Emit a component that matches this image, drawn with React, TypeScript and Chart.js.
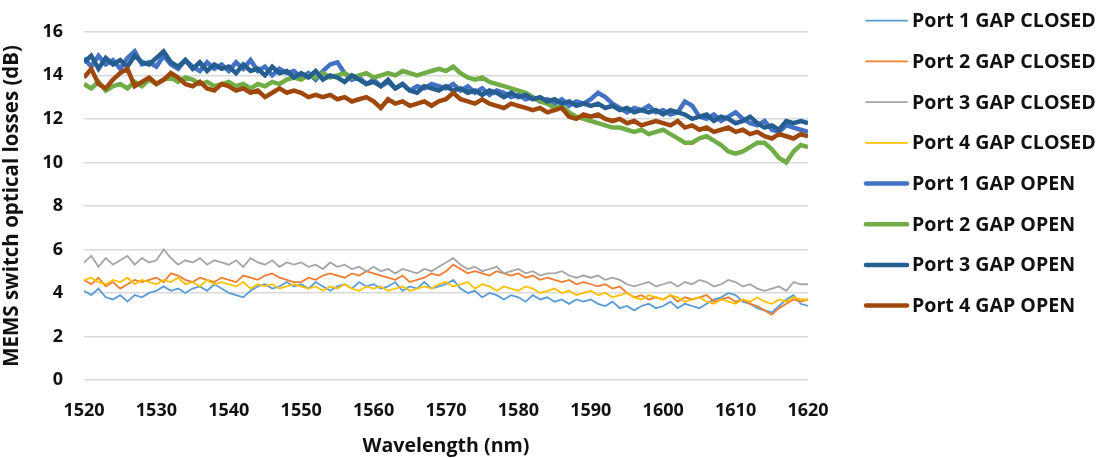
import { useEffect, useRef } from "react";
import { Chart, registerables } from "chart.js";

Chart.register(...registerables);

// Wavelength grid: 1520 nm to 1620 nm, one sample per nm
const startNm = 1520;
const stepNm = 1;

const seriesLabels = [
  "Port 1 GAP CLOSED",
  "Port 2 GAP CLOSED",
  "Port 3 GAP CLOSED",
  "Port 4 GAP CLOSED",
  "Port 1 GAP OPEN",
  "Port 2 GAP OPEN",
  "Port 3 GAP OPEN",
  "Port 4 GAP OPEN",
];

const seriesColors = [
  "#5B9BD5",
  "#ED7D31",
  "#A5A5A5",
  "#FFC000",
  "#4472C4",
  "#70AD47",
  "#255E91",
  "#9E480E",
];

const xTicks = [1520, 1530, 1540, 1550, 1560, 1570, 1580, 1590, 1600, 1610, 1620];
const yTicks = [0, 2, 4, 6, 8, 10, 12, 14, 16];

const port1Closed = [
  4.1, 3.9, 4.2, 3.8, 3.7, 3.9, 3.6, 3.9, 3.8, 4.0,
  4.1, 4.3, 4.1, 4.2, 4.0, 4.2, 4.3, 4.1, 4.4, 4.2,
  4.0, 3.9, 3.8, 4.1, 4.3, 4.4, 4.2, 4.3, 4.5, 4.3,
  4.4, 4.2, 4.5, 4.3, 4.1, 4.3, 4.4, 4.2, 4.5, 4.3,
  4.4, 4.2, 4.3, 4.5, 4.1, 4.3, 4.2, 4.5, 4.2, 4.3,
  4.4, 4.6, 4.2, 4.0, 4.1, 3.8, 4.0, 3.9, 3.7, 3.9,
  3.8, 3.6, 3.9, 3.7, 3.8, 3.6, 3.7, 3.5, 3.7, 3.6,
  3.7, 3.5, 3.4, 3.6, 3.3, 3.4, 3.2, 3.4, 3.5, 3.3,
  3.4, 3.6, 3.3, 3.5, 3.4, 3.3, 3.5, 3.7, 3.8, 4.0,
  3.9, 3.6, 3.5, 3.3, 3.2, 3.1, 3.4, 3.7, 3.9, 3.5,
  3.4,
];

const port2Closed = [
  4.6, 4.4, 4.7, 4.3, 4.5, 4.2, 4.4, 4.6, 4.5, 4.6,
  4.7, 4.5, 4.9, 4.8, 4.6, 4.5, 4.7, 4.6, 4.5, 4.7,
  4.6, 4.5, 4.8, 4.7, 4.6, 4.8, 4.9, 4.7, 4.6, 4.5,
  4.5, 4.7, 4.6, 4.8, 4.9, 4.8, 4.7, 4.9, 4.8, 5.0,
  4.9, 4.8, 4.7, 4.6, 4.8, 4.5, 4.6, 4.7, 4.9, 4.8,
  5.0, 5.3, 5.1, 4.9, 5.0, 4.9, 4.8, 5.0, 4.9, 4.8,
  4.9, 4.7, 4.8, 4.6, 4.7, 4.6, 4.5, 4.6, 4.4, 4.5,
  4.4, 4.3, 4.4, 4.2, 4.3, 4.0, 3.8, 3.9, 3.7, 3.8,
  3.7, 3.9, 3.6, 3.8, 3.7, 3.8, 3.9, 3.6, 3.7, 3.8,
  3.6, 3.7, 3.5, 3.4, 3.2, 3.0, 3.3, 3.5, 3.7, 3.6,
  3.7,
];

const port3Closed = [
  5.4, 5.7, 5.2, 5.6, 5.3, 5.5, 5.7, 5.3, 5.6, 5.4,
  5.5, 6.0, 5.6, 5.3, 5.5, 5.4, 5.6, 5.3, 5.5, 5.4,
  5.3, 5.5, 5.2, 5.6, 5.4, 5.3, 5.5, 5.2, 5.4, 5.3,
  5.4, 5.2, 5.3, 5.1, 5.4, 5.2, 5.3, 5.1, 5.2, 5.0,
  5.2, 5.0, 5.1, 4.9, 5.1, 5.0, 4.9, 5.1, 5.0, 5.2,
  5.4, 5.6, 5.3, 5.1, 5.2, 5.0, 5.1, 5.2, 4.9, 5.0,
  5.1, 4.9, 5.0, 4.8, 4.9, 4.9, 5.0, 4.8, 4.7, 4.8,
  4.7, 4.8, 4.6, 4.7, 4.6, 4.4, 4.3, 4.4, 4.5, 4.3,
  4.4, 4.5, 4.3, 4.5, 4.4, 4.6, 4.5, 4.3, 4.4, 4.6,
  4.5, 4.3, 4.4, 4.2, 4.1, 4.2, 4.3, 4.1, 4.5, 4.4,
  4.4,
];

const port4Closed = [
  4.6, 4.7, 4.5, 4.4, 4.6, 4.5, 4.7, 4.4, 4.6, 4.5,
  4.4, 4.6, 4.5, 4.7, 4.4, 4.5, 4.3, 4.6, 4.4, 4.5,
  4.4, 4.3, 4.5, 4.2, 4.4, 4.3, 4.4, 4.2, 4.3, 4.4,
  4.3, 4.2, 4.3, 4.1, 4.3, 4.2, 4.4, 4.2, 4.1, 4.3,
  4.2, 4.3, 4.1, 4.2, 4.3, 4.1, 4.2, 4.3, 4.2, 4.4,
  4.5, 4.3, 4.4, 4.5, 4.2, 4.4, 4.3, 4.1, 4.3, 4.2,
  4.1, 4.3, 4.2, 4.0, 4.1, 4.2, 4.0, 4.1, 3.9, 4.0,
  4.1, 3.9, 4.0, 3.8, 3.9, 4.0, 3.8, 3.7, 3.9, 3.8,
  3.7, 3.9, 3.8, 3.6, 3.7, 3.8, 3.6, 3.5, 3.7, 3.6,
  3.5, 3.7, 3.6, 3.8, 3.6, 3.5, 3.7, 3.6, 3.8, 3.7,
  3.7,
];

const port1Open = [
  14.8, 14.4, 14.9, 14.5, 14.7, 14.3, 14.8, 15.1, 14.5, 14.6,
  14.4, 14.9, 14.5, 14.3, 14.7, 14.4, 14.2, 14.6, 14.3, 14.5,
  14.2, 14.6, 14.3, 14.7, 14.2, 14.4, 14.0, 14.3, 14.1, 14.2,
  13.9, 14.1, 13.8, 14.2, 14.5, 14.6, 14.1, 13.8, 13.9, 13.6,
  13.8, 13.5, 13.7, 13.4, 13.6, 13.3, 13.5, 13.4, 13.6, 13.5,
  13.4, 13.6, 13.3, 13.5, 13.2, 13.4, 13.1, 13.3, 13.2, 13.0,
  13.1, 12.9, 13.0, 12.8, 12.9, 12.7, 12.9, 12.6, 12.8, 12.7,
  12.9, 13.2, 13.0, 12.7, 12.5, 12.3, 12.5, 12.4, 12.6, 12.3,
  12.4, 12.2, 12.3, 12.8, 12.6, 12.1, 12.0, 12.2, 11.9, 12.1,
  12.3, 12.0, 11.8, 11.7, 11.9, 11.5, 11.4, 11.7, 11.6, 11.5,
  11.4,
];

const port2Open = [
  13.6, 13.4, 13.7, 13.3, 13.5, 13.6, 13.4, 13.7, 13.5, 13.8,
  13.6, 13.8, 13.9, 13.7, 13.9, 13.8, 13.6, 13.7, 13.5, 13.6,
  13.7, 13.5, 13.6, 13.4, 13.6, 13.5, 13.7, 13.6, 13.8, 13.9,
  13.8, 14.0, 13.9, 14.1, 13.9, 14.0, 14.1, 13.9, 14.0, 14.1,
  13.9, 14.0, 14.1, 14.0, 14.2, 14.1, 14.0, 14.1, 14.2, 14.3,
  14.2, 14.4, 14.1, 13.9, 13.8, 13.9, 13.7, 13.6, 13.5, 13.4,
  13.3, 13.2, 13.0, 12.8, 12.7, 12.5, 12.6, 12.3, 12.1, 12.0,
  11.9, 11.8, 11.7, 11.6, 11.6, 11.5, 11.4, 11.5, 11.3, 11.4,
  11.5, 11.3, 11.1, 10.9, 10.9, 11.1, 11.2, 11.0, 10.8, 10.5,
  10.4, 10.5, 10.7, 10.9, 10.9, 10.6, 10.2, 10.0, 10.5, 10.8,
  10.7,
];

const port3Open = [
  14.6, 14.9, 14.3, 14.8, 14.5, 14.7, 14.4, 14.9, 14.6, 14.5,
  14.8, 15.1, 14.6, 14.4, 14.7, 14.3, 14.6, 14.2, 14.5, 14.3,
  14.4, 14.1, 14.5, 14.2, 14.3, 14.0, 14.4, 14.1, 14.2, 13.9,
  14.1, 13.9, 14.2, 13.8, 14.0, 13.9, 13.7, 14.0, 13.8, 13.6,
  13.7, 13.5, 13.8, 13.4, 13.6, 13.3, 13.2, 13.5, 13.4, 13.3,
  13.5, 13.3, 13.4, 13.2, 13.3, 13.1, 13.3, 13.2, 13.0, 13.2,
  13.0, 13.1, 12.9, 13.0, 12.8, 12.9, 12.7, 12.8, 12.6, 12.7,
  12.6, 12.7, 12.5, 12.6, 12.4, 12.5, 12.3, 12.4, 12.3, 12.4,
  12.2, 12.4, 12.3, 12.2, 12.0, 12.1, 12.2, 11.9, 12.1, 12.0,
  11.8, 11.9, 12.1, 11.8, 11.6, 11.7, 11.5, 11.9, 11.8, 11.9,
  11.8,
];

const port4Open = [
  13.9, 14.3, 13.6, 13.4, 13.8, 14.1, 14.3, 13.5, 13.7, 13.9,
  13.6, 13.8, 14.1, 13.9, 13.6, 13.5, 13.7, 13.4, 13.3, 13.6,
  13.5, 13.3, 13.4, 13.2, 13.3, 13.0, 13.2, 13.4, 13.2, 13.3,
  13.2, 13.0, 13.1, 13.0, 13.1, 12.9, 13.0, 12.8, 12.9, 13.0,
  12.8, 12.5, 12.9, 12.7, 12.8, 12.6, 12.7, 12.8, 12.6, 12.8,
  12.9, 13.2, 12.9, 12.8, 12.7, 12.9, 12.7, 12.6, 12.5, 12.7,
  12.6, 12.5, 12.4, 12.5, 12.3, 12.4, 12.5, 12.1, 12.0, 12.2,
  12.1, 12.2, 12.0, 11.9, 12.0, 11.8, 11.9, 11.7, 11.8, 11.9,
  11.8, 11.7, 11.9, 11.6, 11.7, 11.5, 11.6, 11.4, 11.5, 11.6,
  11.4, 11.5, 11.3, 11.4, 11.2, 11.1, 11.3, 11.2, 11.1, 11.3,
  11.2,
];

const seriesValues = [
  port1Closed,
  port2Closed,
  port3Closed,
  port4Closed,
  port1Open,
  port2Open,
  port3Open,
  port4Open,
];

const FONT = "'Open Sans', 'DejaVu Sans', sans-serif";

export default function App() {
  const ref = useRef<HTMLCanvasElement>(null);

  useEffect(() => {
    const canvas = ref.current;
    if (!canvas) return;

    const datasets = seriesLabels.map((label, i) => {
      const open = label.includes("OPEN");
      return {
        label,
        data: seriesValues[i].map((v, k) => ({ x: startNm + k * stepNm, y: v })),
        borderColor: seriesColors[i],
        backgroundColor: seriesColors[i],
        borderWidth: open ? 4.5 : 1.8,
        pointRadius: 0,
        tension: 0,
        order: seriesLabels.length - i,
      };
    });

    const sideLegend = {
      id: "sideLegend",
      afterDraw(chart: any) {
        const c = chart.ctx;
        c.save();
        chart.data.datasets.forEach((ds: any, i: number) => {
          const y = 20.7 + i * 40.7;
          c.beginPath();
          c.strokeStyle = ds.borderColor;
          c.lineWidth = ds.borderWidth;
          c.lineCap = "round";
          c.moveTo(866, y);
          c.lineTo(907, y);
          c.stroke();
          c.fillStyle = "#111111";
          c.font = `bold 19.6px ${FONT}`;
          c.textBaseline = "middle";
          c.textAlign = "left";
          c.fillText(ds.label, 912, y + 1);
        });
        c.restore();
      },
    };

    const chart = new Chart(canvas, {
      type: "line",
      data: { datasets },
      options: {
        animation: false,
        responsive: false,
        layout: { padding: { top: 17, right: 291, left: 0, bottom: 0 } },
        plugins: {
          legend: { display: false },
          tooltip: { enabled: false },
        },
        scales: {
          x: {
            type: "linear",
            min: xTicks[0],
            max: xTicks[xTicks.length - 1],
            afterBuildTicks: (s: any) => {
              s.ticks = xTicks.map((v) => ({ value: v }));
            },
            afterFit: (s: any) => {
              s.height = 78;
            },
            grid: { display: false, drawTicks: false },
            border: { display: false },
            ticks: {
              color: "#111111",
              font: { family: FONT, size: 18, weight: "bold" },
              padding: 20,
              maxRotation: 0,
              autoSkip: false,
              callback: (v: any) => String(v),
            },
            title: {
              display: true,
              text: "Wavelength (nm)",
              color: "#111111",
              font: { family: FONT, size: 19.6, weight: "bold" },
              padding: { top: 0, bottom: 0 },
            },
          },
          y: {
            min: yTicks[0],
            max: yTicks[yTicks.length - 1],
            afterBuildTicks: (s: any) => {
              s.ticks = yTicks.map((v) => ({ value: v }));
            },
            afterFit: (s: any) => {
              s.width = 84;
            },
            grid: { color: "#D9D9D9", lineWidth: 1.5, drawTicks: false },
            border: { display: false },
            ticks: {
              color: "#111111",
              font: { family: FONT, size: 18, weight: "bold" },
              padding: 21,
              callback: (v: any) => String(v),
            },
            title: {
              display: true,
              text: "MEMS switch optical losses (dB)",
              color: "#111111",
              font: { family: FONT, size: 20.5, weight: "bold" },
              padding: { top: 0, bottom: 0 },
            },
          },
        },
      },
      plugins: [sideLegend],
    });

    return () => chart.destroy();
  }, []);

  return (
    <div style={{ position: "fixed", left: 0, top: 0, width: 1099, height: 458, background: "#ffffff" }}>
      <canvas ref={ref} width={1099} height={458} />
    </div>
  );
}
